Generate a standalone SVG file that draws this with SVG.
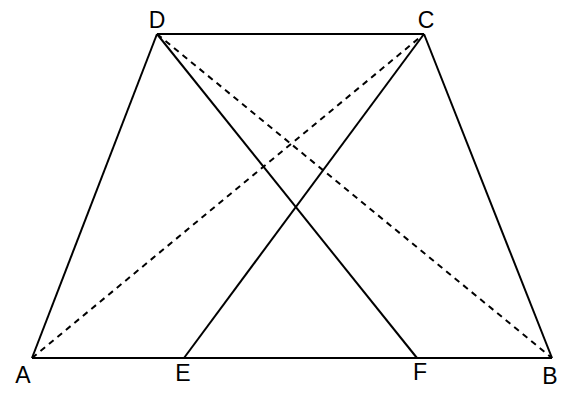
<svg xmlns="http://www.w3.org/2000/svg" width="568" height="400" viewBox="0 0 568 400">
<style>
.s{stroke:#000;stroke-width:2;fill:none;stroke-linecap:butt}
.d{stroke:#000;stroke-width:2;fill:none;stroke-dasharray:6 5}
.t{font-family:"Liberation Sans",Arial,sans-serif;font-size:23px;fill:#000;text-anchor:middle}
</style>
<rect width="568" height="400" fill="#fff"/>
<g id="connectors">
<line class="s" x1="32" y1="358" x2="552" y2="358"/>
<line class="s" x1="157" y1="34" x2="424" y2="34"/>
<line class="s" x1="32" y1="358" x2="157" y2="34"/>
<line class="s" x1="552" y1="358" x2="424" y2="34"/>
<line class="s" x1="157" y1="34" x2="417" y2="358"/>
<line class="s" x1="424" y1="34" x2="184" y2="358"/>
<line class="d" x1="32" y1="358" x2="424" y2="34"/>
<line class="d" x1="157" y1="34" x2="552" y2="358"/>
</g>
<g id="A"><text class="t" x="23" y="383">A</text></g>
<g id="B"><text class="t" x="550" y="384">B</text></g>
<g id="C"><text class="t" x="426" y="28">C</text></g>
<g id="D"><text class="t" x="157" y="28">D</text></g>
<g id="E"><text class="t" x="183" y="381">E</text></g>
<g id="F"><text class="t" x="420" y="380">F</text></g>
</svg>
